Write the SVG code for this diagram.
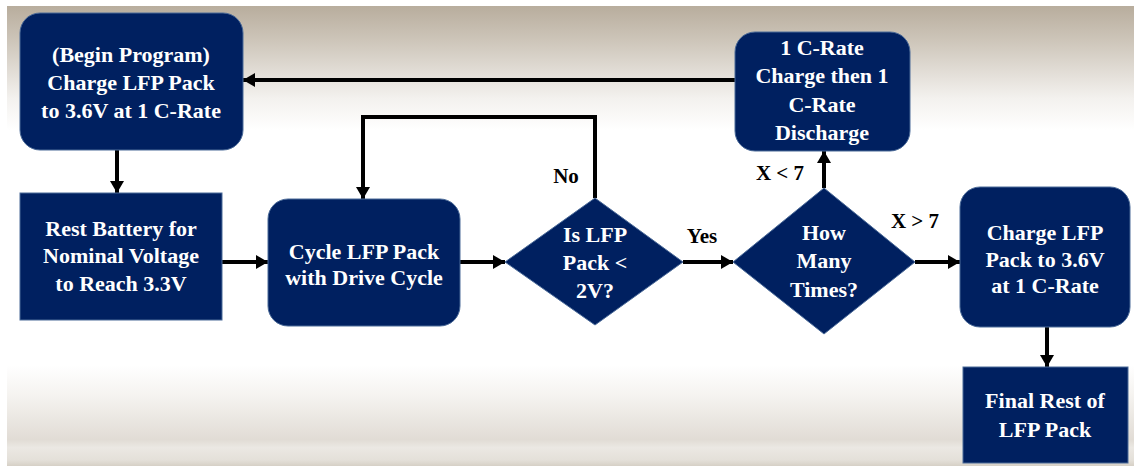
<svg xmlns="http://www.w3.org/2000/svg" width="1134" height="466" viewBox="0 0 1134 466">
<style>
.box{fill:#002060;stroke:#4a6a98;stroke-width:1}
.t{font-family:'Liberation Serif','Times New Roman',serif;font-weight:bold;font-size:22px;fill:#ffffff;text-anchor:middle}
.lbl{font-family:'Liberation Serif','Times New Roman',serif;font-weight:bold;font-size:21px;fill:#000000;text-anchor:middle}
.c{fill:none;stroke:#000000;stroke-width:4;marker-end:url(#ah)}
</style>
<defs>
<linearGradient id="bg" gradientUnits="userSpaceOnUse" x1="0" y1="6" x2="0" y2="466">
<stop offset="0" stop-color="#b8ad9d"/>
<stop offset="0.074" stop-color="#cdc5b9"/>
<stop offset="0.2" stop-color="#f3f1ee"/>
<stop offset="0.27" stop-color="#ffffff"/>
<stop offset="0.78" stop-color="#ffffff"/>
<stop offset="0.847" stop-color="#f5f3f0"/>
<stop offset="0.943" stop-color="#e1dcd5"/>
<stop offset="0.96" stop-color="#ebe8e3"/>
<stop offset="0.987" stop-color="#e4e0d9"/>
<stop offset="1" stop-color="#d6d0c6"/>
</linearGradient>
<marker id="ah" viewBox="0 0 12 14" refX="12" refY="7" markerWidth="12" markerHeight="14" markerUnits="userSpaceOnUse" orient="auto">
<path d="M0,0 L12,7 L0,14 Z" fill="#000000"/>
</marker>
</defs>
<rect x="0" y="0" width="1134" height="466" fill="#ffffff"/>
<rect x="7" y="6" width="1127" height="460" fill="url(#bg)"/>

<g id="connectors">
<path class="c" d="M735,80 H243"/>
<path class="c" d="M117,150 V193"/>
<path class="c" d="M222,262 H268"/>
<path class="c" d="M460,262 H505"/>
<path class="c" d="M595,198 V117 H363 V199"/>
<path class="c" d="M683,262 H733"/>
<path class="c" d="M824,188 V151"/>
<path class="c" d="M915,262 H960"/>
<path class="c" d="M1047,327 V367"/>
<text class="lbl" x="566" y="183">No</text>
<text class="lbl" x="702" y="243">Yes</text>
<text class="lbl" x="780" y="180">X &lt; 7</text>
<text class="lbl" x="915" y="228">X &gt; 7</text>
</g>

<g id="n1">
<rect class="box" x="20" y="13" width="223" height="137" rx="20"/>
<text class="t" x="131" y="62">(Begin Program)</text>
<text class="t" x="131" y="90">Charge LFP Pack</text>
<text class="t" x="131" y="118">to 3.6V at 1 C-Rate</text>
</g>
<g id="n2">
<rect class="box" x="20" y="193" width="202" height="127"/>
<text class="t" x="121" y="236">Rest Battery for</text>
<text class="t" x="121" y="263">Nominal Voltage</text>
<text class="t" x="121" y="291">to Reach 3.3V</text>
</g>
<g id="n3">
<rect class="box" x="268" y="199" width="192" height="127" rx="20"/>
<text class="t" x="364" y="259">Cycle LFP Pack</text>
<text class="t" x="364" y="285">with Drive Cycle</text>
</g>
<g id="n4">
<polygon class="box" points="595,198 683,262 595,325 505,262"/>
<text class="t" x="595" y="242">Is LFP</text>
<text class="t" x="595" y="270">Pack &lt;</text>
<text class="t" x="595" y="298">2V?</text>
</g>
<g id="n5">
<polygon class="box" points="824,188 915,262 824,334 733,262"/>
<text class="t" x="824" y="240">How</text>
<text class="t" x="824" y="268">Many</text>
<text class="t" x="824" y="297">Times?</text>
</g>
<g id="n6">
<rect class="box" x="735" y="32" width="175" height="119" rx="20"/>
<text class="t" x="822" y="55">1 C-Rate</text>
<text class="t" x="822" y="83">Charge then 1</text>
<text class="t" x="822" y="112">C-Rate</text>
<text class="t" x="822" y="140">Discharge</text>
</g>
<g id="n7">
<rect class="box" x="960" y="187" width="170" height="140" rx="20"/>
<text class="t" x="1045" y="240">Charge LFP</text>
<text class="t" x="1045" y="267">Pack to 3.6V</text>
<text class="t" x="1045" y="293">at 1 C-Rate</text>
</g>
<g id="n8">
<rect class="box" x="963" y="367" width="165" height="96"/>
<text class="t" x="1045" y="408">Final Rest of</text>
<text class="t" x="1045" y="437">LFP Pack</text>
</g>
</svg>
